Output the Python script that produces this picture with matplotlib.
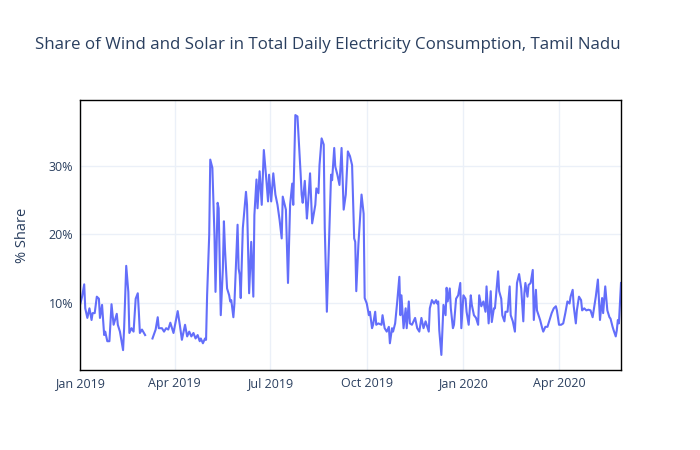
import datetime as dt

import numpy as np
import matplotlib
matplotlib.use('Agg')
import matplotlib.pyplot as plt
import matplotlib.dates as mdates
from matplotlib.ticker import FuncFormatter


START = dt.date(2019, 1, 1)

# day offset from START, and % share (nan = missing data)
days = [
    0, 2, 4, 5, 7, 9, 11, 12, 14, 16, 18, 19, 21, 23, 24, 26, 28, 30, 32, 35,
    36, 38, 41, 42, 44, 46, 47, 49, 51, 53, 55, 56, 57, 59, 62, 65, 69, 72, 74, 75,
    78, 80, 82, 84, 86, 89, 91, 93, 95, 97, 99, 100, 102, 104, 106, 108, 110, 112, 114, 115,
    117, 119, 120, 121, 123, 124, 126, 128, 129, 131, 132, 134, 136, 137, 138, 140, 142, 143, 144, 146,
    147, 150, 151, 152, 153, 155, 158, 159, 161, 163, 164, 165, 166, 168, 169, 171, 173, 175, 177, 179,
    180, 182, 184, 186, 188, 190, 192, 193, 196, 198, 200, 202, 203, 205, 207, 209, 210, 211, 212, 214,
    216, 217, 219, 221, 224, 225, 227, 228, 230, 232, 233, 235, 237, 239, 240, 242, 243, 245, 247, 249,
    251, 253, 255, 257, 259, 260, 261, 262, 263, 265, 267, 268, 270, 271, 273, 275, 276, 278, 279, 281,
    282, 284, 287, 288, 290, 292, 294, 295, 297, 298, 300, 302, 304, 305, 306, 308, 310, 311, 313, 314,
    316, 319, 321, 323, 325, 327, 329, 332, 333, 335, 337, 339, 340, 341, 342, 344, 346, 348, 349, 350,
    352, 353, 355, 356, 358, 360, 362, 363, 365, 367, 368, 370, 372, 373, 375, 377, 379, 380, 382, 384,
    386, 387, 389, 391, 392, 394, 395, 398, 399, 401, 402, 404, 405, 407, 409, 410, 412, 414, 416, 418,
    420, 422, 423, 424, 426, 427, 429, 431, 432, 434, 435, 438, 440, 441, 443, 445, 447, 449, 451, 453,
    454, 456, 458, 460, 462, 464, 466, 467, 469, 470, 472, 473, 475, 477, 478, 480, 482, 484, 486, 488,
    489, 491, 493, 495, 497, 498, 500, 502, 504, 505, 507, 508, 510, 511, 512, 513, 515,
]
share = [
    9.7, 10.9, 12.7, 9.2, 7.8, 9.2, 7.5, 8.5, 8.5, 10.9, 10.6, 7.8, 9.7, 5.3, 5.8, 4.4, 4.4, 9.8, 6.8, 8.4,
    6.8, 5.8, 3.1, 6.3, 15.4, 11.6, 5.6, 6.3, 5.8, 10.6, 11.4, 8.7, 5.6, 6.1, 5.3, np.nan, 4.8, 6.1, 7.9, 6.3,
    6.3, 5.8, 6.3, 6.1, 7.1, 5.6, 7.2, 8.8, 6.8, 4.6, 6.1, 6.8, 5.1, 5.8, 5.1, 5.6, 4.8, 5.3, 4.4, 4.8,
    4.1, 4.8, 4.6, 11.1, 19.9, 30.9, 29.7, 19.9, 11.6, 24.6, 23.8, 8.2, 15.0, 21.9, 17.9, 12.1, 11.1, 10.2, 10.4, 7.9,
    9.9, 21.4, 15.0, 14.1, 10.7, 20.9, 26.2, 24.3, 11.4, 18.9, 15.0, 10.9, 22.8, 28.0, 23.8, 29.2, 24.3, 32.3, 28.7, 24.8,
    28.7, 24.8, 28.9, 25.8, 24.3, 22.1, 19.4, 25.5, 23.6, 12.9, 24.3, 27.4, 24.3, 37.4, 37.2, 31.8, 28.9, 25.8, 24.6, 27.8,
    22.3, 24.3, 28.9, 21.6, 24.3, 26.7, 26.0, 30.1, 34.0, 33.1, 20.9, 8.7, 18.5, 28.7, 27.9, 32.6, 29.9, 28.7, 27.2, 32.6,
    23.6, 25.8, 32.1, 31.4, 30.1, 24.8, 19.4, 18.9, 11.7, 18.5, 23.3, 25.8, 23.0, 10.7, 9.9, 8.2, 8.7, 6.3, 6.8, 8.7,
    6.8, 7.0, 6.8, 8.2, 6.3, 5.8, 6.5, 4.1, 6.3, 5.8, 7.0, 10.2, 13.8, 8.2, 11.1, 6.3, 9.2, 6.3, 10.2, 7.0,
    6.8, 7.8, 6.3, 5.8, 7.8, 6.3, 7.3, 5.8, 9.2, 10.4, 9.9, 10.4, 9.9, 10.2, 6.0, 2.4, 9.7, 8.2, 12.2, 10.2,
    12.1, 9.2, 6.3, 6.8, 10.6, 11.1, 12.9, 6.3, 11.1, 10.6, 8.7, 6.8, 11.1, 9.7, 8.2, 7.8, 6.8, 11.1, 9.5, 10.2,
    8.7, 12.4, 7.0, 11.7, 7.2, 9.2, 9.2, 14.6, 11.7, 10.6, 8.2, 7.3, 8.7, 8.7, 12.4, 8.2, 7.3, 5.8, 12.9, 14.2,
    12.1, 7.3, 11.4, 12.9, 10.9, 12.6, 12.9, 14.8, 7.5, 11.9, 8.9, 7.5, 6.3, 5.8, 6.5, 6.5, 7.5, 8.5, 9.2, 9.5,
    8.9, 6.8, 6.8, 7.0, 8.5, 10.2, 9.9, 10.9, 11.9, 9.5, 7.0, 8.9, 10.9, 10.4, 8.9, 9.2, 8.9, 9.0, 8.9, 7.9,
    8.9, 10.9, 13.4, 7.5, 10.7, 8.5, 12.4, 8.9, 7.9, 7.7, 6.5, 6.0, 5.1, 6.0, 7.5, 7.0, 12.9,
]

xtick_dates = ['2019-01-01', '2019-04-01', '2019-07-01', '2019-10-01', '2020-01-01', '2020-04-01']
ytick_vals = [10, 20, 30]

TITLE = 'Share of Wind and Solar in Total Daily Electricity Consumption, Tamil Nadu'
TEXT = '#2a3f5f'
GRID = '#ebf0f8'
LINE = '#636efa'

plt.rcParams['font.family'] = ['Open Sans', 'DejaVu Sans']

dates = [START + dt.timedelta(days=d) for d in days]

fig = plt.figure(figsize=(7, 4.5), dpi=100)
ax = fig.add_axes([80 / 700, 1 - 370 / 450, 541 / 700, 270 / 450])

ax.plot(dates, share, color=LINE, linewidth=1.5, solid_joinstyle='round')

ax.set_xlim(dates[0], dates[-1])
ax.set_ylim(0.2, 39.6)

ax.set_xticks([np.datetime64(d) for d in xtick_dates])
ax.xaxis.set_major_formatter(mdates.DateFormatter('%b %Y'))
ax.set_yticks(ytick_vals)
ax.yaxis.set_major_formatter(FuncFormatter(lambda v, p: '%d%%' % v))

ax.grid(True, color=GRID, linewidth=1)
ax.set_axisbelow(True)
ax.tick_params(length=0, labelsize=9, labelcolor=TEXT, pad=5)
for s in ax.spines.values():
    s.set_color('black')
    s.set_linewidth(1)

ax.set_ylabel('% Share', fontsize=10.5, color=TEXT, labelpad=13)
fig.text(35 / 700, 1 - 45 / 450, TITLE, fontsize=12.2, color=TEXT, va='center', ha='left')

fig.savefig('out.png', dpi=100)
